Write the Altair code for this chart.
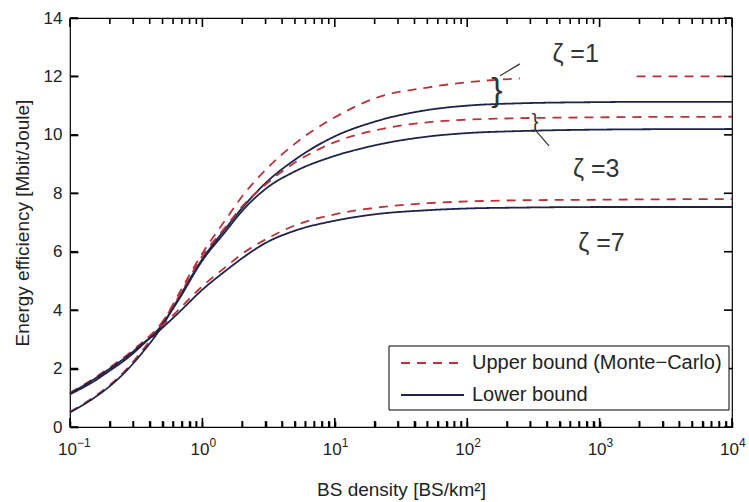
import altair as alt
import pandas as pd

# ---------------- data ----------------
X = [0.1, 0.15, 0.2, 0.27, 0.36, 0.48, 0.64, 1.0, 1.5, 2.0, 3.0, 5.0,
     10, 20, 50, 100, 250, 1000, 1900, 10000]

z1_lower = [0.50, 0.98, 1.40, 1.95, 2.60, 3.35, 4.30, 5.75, 6.80, 7.50, 8.35, 9.15,
            9.95, 10.45, 10.85, 11.00, 11.08, 11.12, 11.13, 11.13]
z1_upper = [0.52, 1.01, 1.44, 2.00, 2.68, 3.45, 4.43, 5.95, 7.10, 7.90, 8.80, 9.70,
            10.60, 11.25, 11.62, 11.80, 11.93, None, 12.00, 12.00]
z3_lower = [1.12, 1.55, 1.93, 2.35, 2.85, 3.42, 4.25, 5.70, 6.70, 7.40, 8.15, 8.75,
            9.28, 9.64, 9.94, 10.06, 10.13, 10.18, 10.19, 10.20]
z3_upper = [1.15, 1.59, 1.98, 2.41, 2.92, 3.50, 4.35, 5.85, 6.85, 7.55, 8.30, 9.05,
            9.75, 10.15, 10.43, 10.52, 10.57, 10.60, 10.61, 10.62]
z7_lower = [1.15, 1.62, 2.00, 2.42, 2.88, 3.33, 3.85, 4.70, 5.35, 5.78, 6.30, 6.72,
            7.06, 7.28, 7.42, 7.48, 7.51, 7.53, 7.53, 7.53]
z7_upper = [1.17, 1.65, 2.04, 2.47, 2.94, 3.40, 3.95, 4.82, 5.48, 5.93, 6.42, 6.90,
            7.28, 7.50, 7.66, 7.72, 7.76, 7.78, 7.79, 7.80]

bound_names = ["Upper bound (Monte\u2212Carlo)", "Lower bound"]
bound_colors = ["#b8333a", "#1f2347"]

ann_x = [440, 630, 690]
ann_y = [12.77, 8.84, 6.30]
ann_text = ["\u03b6 =1", "\u03b6 =3", "\u03b6 =7"]

# hand-drawn brace marks next to the zeta=1 / zeta=3 labels
brace_x = [168, 325]
brace_y = [11.5, 10.45]
brace_size = [34, 20]
stroke_x = [177, 331]
stroke_x2 = [250, 415]
stroke_y = [12.02, 10.14]
stroke_y2 = [12.43, 9.62]

x_major = [0.1, 1, 10, 100, 1000, 10000]
x_exp = ["\u22121", "0", "1", "2", "3", "4"]
x_minor = [k * 10.0 ** d for d in range(-1, 4) for k in range(2, 10)]
y_ticks = [0, 2, 4, 6, 8, 10, 12, 14]

# ---------------- geometry of the plot ----------------
W, H = 662, 409
Y0, Y1 = 0, 14
X0, X1 = 0.1, 10000
DECADES = 5
XMAJ, XMIN, YT = 9, 6, 8      # inward tick lengths (px)
xscale = alt.Scale(type="log", domain=[X0, X1])
yscale = alt.Scale(domain=[Y0, Y1])
FONT = "Liberation Sans"
TXT = "#222222"

# ---------------- build tables ----------------
rows = []
series = [("1", bound_names[0], z1_upper), ("1", bound_names[1], z1_lower),
          ("3", bound_names[0], z3_upper), ("3", bound_names[1], z3_lower),
          ("7", bound_names[0], z7_upper), ("7", bound_names[1], z7_lower)]
for zeta, bound, ys in series:
    seg = 0
    for xv, yv in zip(X, ys):
        if yv is None:
            seg += 1
            continue
        rows.append({"x": xv, "y": yv, "bound": bound, "key": f"{zeta}-{bound}-{seg}"})
df = pd.DataFrame(rows)

def ylen(px):
    return px * (Y1 - Y0) / H

def xfac(px):
    return 10 ** (px * DECADES / W)

# inward tick segments on all four sides (MATLAB style)
xt_rows = []
for v in x_major + x_minor:
    ln = XMAJ if v in x_major else XMIN
    xt_rows.append({"x": v, "y": float(Y0), "y2": Y0 + ylen(ln)})
    xt_rows.append({"x": v, "y": float(Y1), "y2": Y1 - ylen(ln)})
df_xt = pd.DataFrame(xt_rows)
yt_rows = []
for v in y_ticks:
    yt_rows.append({"x": X0, "x2": X0 * xfac(YT), "y": float(v)})
    yt_rows.append({"x": X1, "x2": X1 / xfac(YT), "y": float(v)})
df_yt = pd.DataFrame(yt_rows)

major_test = "abs(log(datum.value)/LN10 - round(log(datum.value)/LN10)) < 0.001"

lines = alt.Chart(df).mark_line(interpolate="monotone", strokeWidth=1.8).encode(
    x=alt.X("x:Q", scale=xscale,
            axis=alt.Axis(values=x_major + x_minor,
                          labelExpr=major_test + " ? '10' : ''",
                          ticks=True, tickSize=XMIN, tickColor="black", tickWidth=1.6,
                          offset=-XMIN, domain=False, grid=False,
                          labelFontSize=17, labelFont=FONT, labelPadding=14,
                          labelOffset=-3, labelFlush=False, labelOverlap=False,
                          labelColor=TXT, title="BS density [BS/km\u00b2]",
                          titleFont=FONT, titleFontSize=19, titleFontWeight="normal",
                          titleColor=TXT, titleY=62 + XMIN, titleBaseline="middle")),
    y=alt.Y("y:Q", scale=yscale,
            axis=alt.Axis(values=y_ticks, ticks=True, tickSize=YT, tickColor="black",
                          tickWidth=1.6, offset=-YT, domain=False, grid=False,
                          labelFontSize=17, labelFont=FONT, labelPadding=8,
                          labelFlush=False, labelOverlap=False,
                          labelColor=TXT, title="Energy efficiency [Mbit/Joule]",
                          titleFont=FONT, titleFontSize=19, titleFontWeight="normal",
                          titleColor=TXT, titleX=-48 - YT, titleY=H / 2, titleAngle=270,
                          titleAlign="center", titleBaseline="middle")),
    color=alt.Color("bound:N", scale=alt.Scale(domain=bound_names, range=bound_colors),
                    legend=None),
    strokeDash=alt.StrokeDash("bound:N",
                              scale=alt.Scale(domain=bound_names, range=[[9, 7], [1, 0]]),
                              legend=None),
    detail="key:N",
)

xt = alt.Chart(df_xt).mark_rule(color="black", strokeWidth=1.6).encode(
    x=alt.X("x:Q", scale=xscale),
    y=alt.Y("y:Q", scale=yscale), y2="y2:Q")
yt = alt.Chart(df_yt).mark_rule(color="black", strokeWidth=1.6).encode(
    x=alt.X("x:Q", scale=xscale), x2="x2:Q",
    y=alt.Y("y:Q", scale=yscale))

# exponents of the x tick labels
df_exp = pd.DataFrame({"x": x_major, "e": x_exp})
exps = alt.Chart(df_exp).mark_text(align="left", baseline="alphabetic", fontSize=12,
                                   font=FONT, color=TXT, dx=7).encode(
    x=alt.X("x:Q", scale=xscale), y=alt.value(H + 20), text="e:N")

# zeta annotations
df_ann = pd.DataFrame({"x": ann_x, "y": ann_y, "t": ann_text})
ann = alt.Chart(df_ann).mark_text(align="left", baseline="middle", fontSize=25,
                                  font=FONT, color="#333333").encode(
    x=alt.X("x:Q", scale=xscale), y=alt.Y("y:Q", scale=yscale), text="t:N")

df_br = pd.DataFrame({"x": brace_x, "y": brace_y, "s": brace_size, "t": ["}", "}"]})
braces = alt.Chart(df_br).mark_text(align="center", baseline="middle", font=FONT,
                                    color="#333333").encode(
    x=alt.X("x:Q", scale=xscale), y=alt.Y("y:Q", scale=yscale),
    size=alt.Size("s:Q", scale=None, legend=None), text="t:N")
df_st = pd.DataFrame({"x": stroke_x, "x2": stroke_x2, "y": stroke_y, "y2": stroke_y2})
strokes = alt.Chart(df_st).mark_rule(color="#333333", strokeWidth=1.2).encode(
    x=alt.X("x:Q", scale=xscale), x2="x2:Q",
    y=alt.Y("y:Q", scale=yscale), y2="y2:Q")

# legend box
one = pd.DataFrame({"a": [0]})
leg_box = alt.Chart(one).mark_rect(fill="white", stroke="black", strokeWidth=1).encode(
    x=alt.value(319), x2=alt.value(659), y=alt.value(328), y2=alt.value(392))
leg_dash = alt.Chart(one).mark_rule(color=bound_colors[0], strokeWidth=1.8,
                                    strokeDash=[9, 7]).encode(
    x=alt.value(331), x2=alt.value(394), y=alt.value(345))
leg_solid = alt.Chart(one).mark_rule(color=bound_colors[1], strokeWidth=1.8).encode(
    x=alt.value(331), x2=alt.value(394), y=alt.value(377))
leg_t1 = alt.Chart(one).mark_text(align="left", baseline="middle", fontSize=20,
                                  font=FONT, color=TXT).encode(
    x=alt.value(402), y=alt.value(345), text=alt.value(bound_names[0]))
leg_t2 = alt.Chart(one).mark_text(align="left", baseline="middle", fontSize=20,
                                  font=FONT, color=TXT).encode(
    x=alt.value(402), y=alt.value(377), text=alt.value(bound_names[1]))

chart = alt.layer(
    lines, xt, yt, exps, ann, braces, strokes,
    leg_box, leg_dash, leg_solid, leg_t1, leg_t2
).properties(
    width=W, height=H,
    autosize=alt.AutoSizeParams(type="none"),
    padding={"left": 70, "top": 18, "right": 17, "bottom": 75},
    background="white",
).configure_view(stroke="black", strokeWidth=1.2)

chart.save("out.html", embed_options={"renderer": "svg", "actions": False})
